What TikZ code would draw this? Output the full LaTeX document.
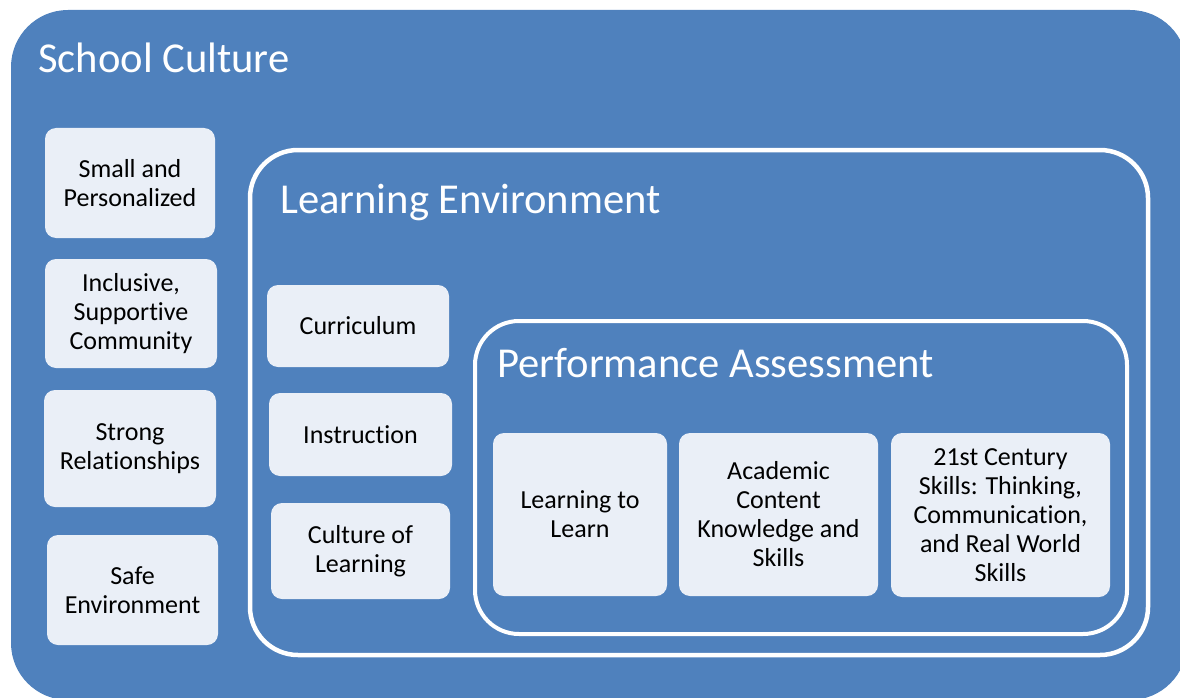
\documentclass[tikz,border=0pt]{standalone}
\usepackage{fontspec}
\setmainfont[Ligatures={NoCommon}]{Carlito}
\definecolor{cblue}{HTML}{4F81BD}
\definecolor{cbox}{HTML}{EAEFF7}
\begin{document}
\begin{tikzpicture}[x=1pt,y=-1pt,
  outerframe/.style={fill=cblue, rounded corners=57pt, inner sep=0pt, outer sep=0pt},
  innerframe/.style={draw=white, line width=#1, rounded corners=48pt, inner sep=0pt, outer sep=0pt},
  item/.style={fill=cbox, rounded corners=11pt, inner sep=0pt, outer sep=0pt, align=center,
    font=\fontsize{26pt}{29pt}\selectfont, text=black},
  title/.style={anchor=base west, text=white, font=\fontsize{42.6pt}{46pt}\selectfont, inner sep=0pt}]
\useasboundingbox (0,0) rectangle (1180,698);
\clip (0,0) rectangle (1180,698);
\node[outerframe, minimum width=1176pt, minimum height=690pt] (sc) at (599,355) {};
\node[innerframe=4.5pt, minimum width=898pt, minimum height=505pt] (le) at (699,402.5) {};
\node[innerframe=4pt, rounded corners=44pt, minimum width=652pt, minimum height=313pt] (pa) at (801,477.5) {};

\node[title] (tsc) at (38,73) {School Culture};
\node[title] (tle) at (280,213) {Learning Environment};
\node[title] (tpa) at (497,377) {Performance Assessment};

\node[item, minimum width=170pt, minimum height=110pt] (small) at (130,183) {Small and\\Personalized};
\node[item, minimum width=172pt, minimum height=109pt] (incl) at (131,313.5) {Inclusive,\\Supportive\\Community};
\node[item, minimum width=172pt, minimum height=117pt] (strong) at (130,448.5) {Strong\\Relationships};
\node[item, minimum width=171pt, minimum height=110pt] (safe) at (132.5,590) {Safe\\Environment};

\node[item, minimum width=182pt, minimum height=82pt] (curr) at (358,326) {Curriculum};
\node[item, minimum width=183pt, minimum height=83pt] (instr) at (360.5,434.5) {Instruction};
\node[item, minimum width=179pt, minimum height=96pt] (cult) at (360.5,551) {Culture of\\Learning};

\node[item, minimum width=174pt, minimum height=163pt] (ltl) at (580,514.5) {Learning to\\Learn};
\node[item, minimum width=199pt, minimum height=163pt] (acad) at (778.5,514.5) {Academic\\Content\\Knowledge and\\Skills};
\node[item, minimum width=219pt, minimum height=164pt] (c21) at (1000.5,515) {21st Century\\Skills: Thinking,\\Communication,\\and Real World\\Skills};
\end{tikzpicture}
\end{document}
